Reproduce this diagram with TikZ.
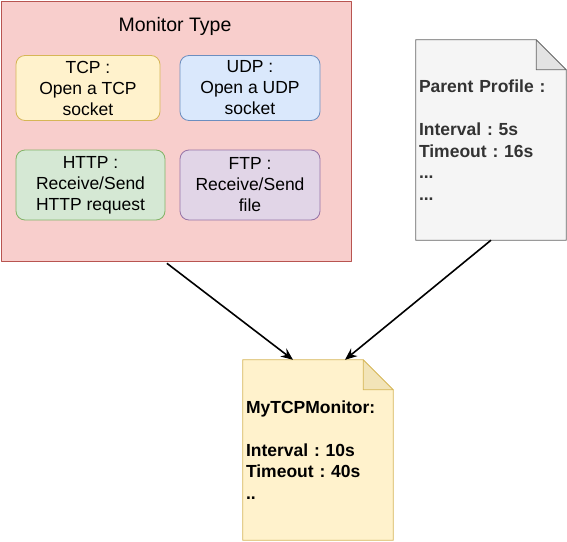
\documentclass[tikz,border=0pt]{standalone}
\usepackage{fontspec}
\setmainfont{Liberation Sans}
\usetikzlibrary{arrows.meta, backgrounds}
\frenchspacing

\definecolor{redfill}{HTML}{F8CECC}
\definecolor{redline}{HTML}{B85450}
\definecolor{yelfill}{HTML}{FFF2CC}
\definecolor{yelline}{HTML}{D6B656}
\definecolor{yelfold}{HTML}{F2E4B8}
\definecolor{bluefill}{HTML}{DAE8FC}
\definecolor{blueline}{HTML}{6C8EBF}
\definecolor{greenfill}{HTML}{D5E8D4}
\definecolor{greenline}{HTML}{82B366}
\definecolor{purpfill}{HTML}{E1D5E7}
\definecolor{purpline}{HTML}{9673A6}
\definecolor{greyfill}{HTML}{F5F5F5}
\definecolor{greyline}{HTML}{666666}
\definecolor{greyfold}{HTML}{E3E3E3}
\definecolor{greytext}{HTML}{333333}

\begin{document}
\begin{tikzpicture}[
  x=1pt,
  y=-1pt,
  line join=round,
  typebox/.style={
    rounded corners=9pt,
    minimum height=65pt,
    align=center,
    font=\fontsize{17.5}{21}\selectfont,
    inner sep=2pt,
    line width=0.8pt
  },
  note/.style={
    align=left,
    text width=144pt,
    inner xsep=3pt,
    inner ysep=0pt,
    minimum width=150pt,
    font=\bfseries\fontsize{17.5}{21.5}\selectfont
  },
  outline/.style={
    line width=0.8pt
  },
  arrow/.style={
    -{Stealth[length=12pt,width=10pt]},
    line width=1.6pt,
    draw=black
  }
]
\useasboundingbox (0,0) rectangle (567,541);

% ------------------------------------------------
% Monitor types
% ------------------------------------------------
\node[draw=redline, fill=redfill, line width=0.8pt, anchor=north west,
  minimum width=350pt, minimum height=260pt] (monitor) at (0.5,0.5) {};

\node[font=\fontsize{19.5}{23}\selectfont] (title) at (175,26)
{Monitor Type};

\node[typebox, draw=yelline, fill=yelfill, minimum width=144pt] (tcp) at (88,88)
{TCP :\\Open a TCP\\socket};

\node[typebox, draw=blueline, fill=bluefill, minimum width=140pt] (udp) at (250,88)
{UDP :\\Open a UDP\\socket};

\node[typebox, draw=greenline, fill=greenfill, minimum width=149pt,
  minimum height=70pt] (http) at (90.5,185)
{HTTP :\\Receive/Send\\HTTP request};

\node[typebox, draw=purpline, fill=purpfill, minimum width=140pt,
  minimum height=70pt] (ftp) at (250,185)
{FTP :\\Receive/Send\\file};

% ------------------------------------------------
% Profiles
% ------------------------------------------------
\node[note, minimum height=200pt, text=greytext] (parent) at (491,140)
{Parent Profile :\\[21.5pt]Interval : 5s\\Timeout : 16s\\...\\...};

\node[note, minimum height=180pt] (mytcp) at (318,450)
{MyTCPMonitor:\\[21.5pt]Interval : 10s\\Timeout : 40s\\..};

% Folded-corner sheets behind the note texts.
\begin{scope}[on background layer]
\draw[outline, draw=greyline, fill=greyfill] (parent.north west)
  -- ([xshift=-30pt]parent.north east)
  -- ([yshift=-30pt]parent.north east) -- (parent.south east)
  -- (parent.south west) -- cycle;
\draw[outline, draw=yelline, fill=yelfill] (mytcp.north west)
  -- ([xshift=-30pt]mytcp.north east)
  -- ([yshift=-30pt]mytcp.north east) -- (mytcp.south east)
  -- (mytcp.south west) -- cycle;
\end{scope}

\draw[outline, draw=greyline, fill=greyfold] ([xshift=-30pt]parent.north east)
  -- ([xshift=-30pt,yshift=-30pt]parent.north east)
  -- ([yshift=-30pt]parent.north east) -- cycle;
\draw[outline, draw=yelline, fill=yelfold] ([xshift=-30pt]mytcp.north east)
  -- ([xshift=-30pt,yshift=-30pt]mytcp.north east)
  -- ([yshift=-30pt]mytcp.north east) -- cycle;

% ------------------------------------------------
% Inheritance arrows
% ------------------------------------------------
\draw[arrow] ([xshift=-9pt,yshift=-2pt]monitor.south) -- ([xshift=-25pt]mytcp.north);
\draw[arrow] (parent.south) -- ([xshift=27pt]mytcp.north);

\end{tikzpicture}
\end{document}
